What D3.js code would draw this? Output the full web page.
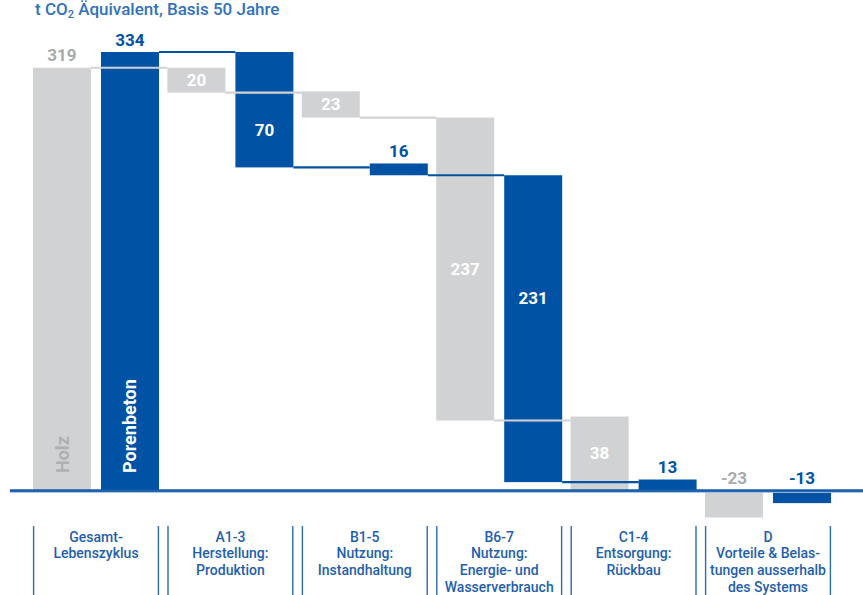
<!DOCTYPE html>
<html>
<head>
<meta charset="utf-8">
<script src="https://cdn.jsdelivr.net/npm/d3@7"></script>
<style>
html,body{margin:0;padding:0;background:#fff;}
svg{display:block;font-family:Roboto,"Noto Sans",sans-serif;}
</style>
</head>
<body>
<svg id="chart" width="863" height="595"></svg>
<script>
// ---------- data ----------
const categories = ["Gesamt", "A1-3", "B1-5", "B6-7", "C1-4", "D"];
const categoryLines = [
  ["Gesamt-", "Lebenszyklus"],
  ["A1-3", "Herstellung:", "Produktion"],
  ["B1-5", "Nutzung:", "Instandhaltung"],
  ["B6-7", "Nutzung:", "Energie- und", "Wasserverbrauch"],
  ["C1-4", "Entsorgung:", "Rückbau"],
  ["D", "Vorteile & Belas-", "tungen ausserhalb", "des Systems"]
];
const series = ["Holz", "Porenbeton"];
// printed values
const holzValues = [319, 20, 23, 237, 38, -23];
const porenValues = [334, 70, 16, 231, 13, -13];
// drawn waterfall extents (start / end on the value axis)
const holzFrom = [0, 322, 304, 284, 56, 0];
const holzTo = [322, 303, 284, 53, 0, -21];
const porenFrom = [0, 334, 249, 240, 8, 0];
const porenTo = [334, 246, 240, 6, 0, -10];
const titleParts = ["t CO", "2", " Äquivalent, Basis 50 Jahre"];

// ---------- styles ----------
const BLUE = "#0053a4";
const GRAY = "#d1d2d4";
const GRAYTEXT = "#a9aaac";
const TEXTBLUE = "#1f5fae";
const SEPBLUE = "#2e6bb3";

const svg = d3.select("#chart");
svg.append("rect").attr("width", 863).attr("height", 595).attr("fill", "#fff");

const y = d3.scaleLinear().domain([0, 334]).range([490, 52]);
const x0 = d3.scaleBand().domain(categories).range([33, 831]).paddingInner(0.0625).paddingOuter(0);
const x1 = d3.scaleBand().domain(series).range([0, x0.bandwidth()]).paddingInner(0.147).paddingOuter(0);
const bw = x1.bandwidth();

const seriesData = {
  Holz: {from: holzFrom, to: holzTo, values: holzValues, color: GRAY, textColor: GRAYTEXT},
  Porenbeton: {from: porenFrom, to: porenTo, values: porenValues, color: BLUE, textColor: BLUE}
};

// title
const title = svg.append("text").attr("x", 35).attr("y", 15)
  .attr("font-size", 17).attr("font-weight", 500).attr("fill", "#3272ba");
title.append("tspan").text(titleParts[0]);
title.append("tspan").attr("font-size", 11).attr("dy", 3).text(titleParts[1]);
title.append("tspan").attr("dy", -3).text(titleParts[2]);

// bars
const barsG = svg.append("g");
series.forEach(s => {
  const d = seriesData[s];
  categories.forEach((c, i) => {
    const hi = Math.max(d.from[i], d.to[i]);
    const lo = Math.min(d.from[i], d.to[i]);
    barsG.append("rect")
      .attr("x", x0(c) + x1(s))
      .attr("y", y(hi))
      .attr("width", bw)
      .attr("height", y(lo) - y(hi))
      .attr("fill", d.color);
  });
});

// connectors
const connG = svg.append("g");
["Porenbeton", "Holz"].forEach(s => {
  const d = seriesData[s];
  for (let i = 0; i < categories.length - 1; i++) {
    const end = d.to[i];
    if (end === 0) continue;
    connG.append("line")
      .attr("x1", x0(categories[i]) + x1(s) + bw)
      .attr("x2", x0(categories[i + 1]) + x1(s))
      .attr("y1", y(end)).attr("y2", y(end))
      .attr("stroke", d.color).attr("stroke-width", 2.2);
  }
});

// baseline
svg.append("line").attr("x1", 10).attr("x2", 863).attr("y1", 490.6).attr("y2", 490.6)
  .attr("stroke", "#1a5eab").attr("stroke-width", 2.6);
svg.append("line").attr("x1", 10).attr("x2", 863).attr("y1", 492.4).attr("y2", 492.4)
  .attr("stroke", "#9dbde2").attr("stroke-width", 1);

// value labels
const labG = svg.append("g").attr("font-size", 17).attr("font-weight", 700).attr("text-anchor", "middle");
series.forEach(s => {
  const d = seriesData[s];
  const other = s === "Holz" ? seriesData.Porenbeton : seriesData.Holz;
  categories.forEach((c, i) => {
    const hi = Math.max(d.from[i], d.to[i]);
    const lo = Math.min(d.from[i], d.to[i]);
    const cx = x0(c) + x1(s) + bw / 2;
    const hpx = y(lo) - y(hi);
    const val = d.values[i];
    const txt = String(val);
    const inside = i > 0 && val > 0 && hpx > 18;
    if (inside) {
      let top = y(hi), bot = y(lo);
      if (s === "Porenbeton") {
        // the crossing light connector splits the bar: centre in the larger part
        const cy = y(other.to[i]);
        if (cy > top && cy < bot) {
          if (cy - top > bot - cy) bot = cy; else top = cy;
        }
      }
      const mid = (top + bot) / 2;
      labG.append("text").attr("x", cx).attr("y", mid + 6).attr("fill", "#fff").text(txt);
    } else {
      labG.append("text").attr("x", cx).attr("y", y(hi) - 6.5).attr("fill", d.textColor).text(txt);
    }
  });
});

// series names inside the total bars
series.forEach(s => {
  const cx = x0(categories[0]) + x1(s) + bw / 2;
  svg.append("text")
    .attr("transform", `translate(${cx + 6.5},473) rotate(-90)`)
    .attr("font-size", 18).attr("font-weight", 700)
    .attr("fill", s === "Holz" ? "#afb0b2" : "#fff")
    .text(s);
});

// category labels + separators
const catG = svg.append("g");
categories.forEach((c, i) => {
  const left = x0(c), right = x0(c) + x0.bandwidth();
  [left + 0.6, right - 0.6].forEach(xx => {
    catG.append("line").attr("x1", xx).attr("x2", xx).attr("y1", 526).attr("y2", 595)
      .attr("stroke", SEPBLUE).attr("stroke-width", 1.4);
  });
  const t = catG.append("text").attr("text-anchor", "middle").attr("font-size", 14)
    .attr("font-weight", 500).attr("fill", TEXTBLUE);
  categoryLines[i].forEach((ln, k) => {
    t.append("tspan").attr("x", (left + right) / 2).attr("y", 541.7 + k * 16.7).text(ln);
  });
});
</script>
</body>
</html>
